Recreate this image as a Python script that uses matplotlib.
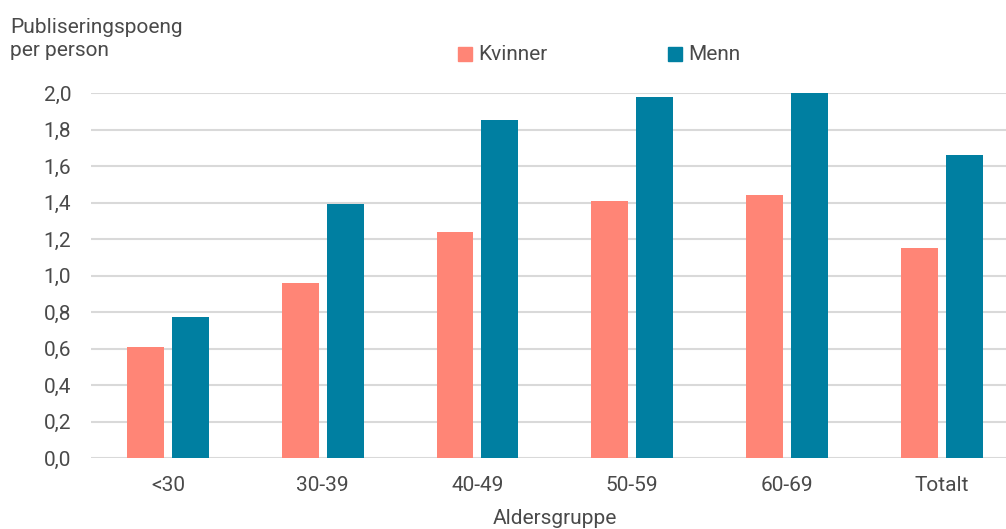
import matplotlib
matplotlib.use("Agg")
import matplotlib.pyplot as plt
import numpy as np
from matplotlib.patches import Rectangle

plt.rcParams['font.family'] = ['Roboto', 'DejaVu Sans']
plt.rcParams['font.weight'] = 'normal'

categories = ["<30", "30-39", "40-49", "50-59", "60-69", "Totalt"]
kvinner = [0.61, 0.96, 1.24, 1.41, 1.44, 1.15]
menn = [0.77, 1.39, 1.85, 1.98, 2.00, 1.66]
yticks = [0.0, 0.2, 0.4, 0.6, 0.8, 1.0, 1.2, 1.4, 1.6, 1.8, 2.0]

c_k = "#FF8576"
c_m = "#007FA1"
txt = "#4a4a4a"
fs = 15

W, H = 1006, 529
fig = plt.figure(figsize=(W/100, H/100), dpi=100)
ax = fig.add_axes([90.6/W, 1-458/H, (1019-90.6)/W, (458-93)/H])

x = np.arange(len(categories))
bw = 0.239
off = 0.145
ax.bar(x - off, kvinner, bw, color=c_k, zorder=3)
ax.bar(x + off, menn, bw, color=c_m, zorder=3)

ax.set_xlim(-0.5, len(categories) - 0.5)
ax.set_ylim(0, 2.0)
ax.set_yticks(yticks)
ax.set_yticklabels([f"{v:.1f}".replace(".", ",") for v in yticks])
ax.set_xticks(x)
ax.set_xticklabels(categories)
ax.tick_params(axis='both', length=0, labelsize=fs, colors=txt)
ax.tick_params(axis='y', pad=14)
ax.tick_params(axis='x', pad=13)
ax.grid(axis='y', color='#d9d9d9', linewidth=1.5, zorder=0)
for s in ax.spines.values():
    s.set_visible(False)
ax.set_axisbelow(True)

ax.set_xlabel("Aldersgruppe", fontsize=fs, color=txt)
ax.xaxis.set_label_coords((555 - 90.6) / (1019 - 90.6), -(519 - 458) / (458 - 93))
ax.xaxis.label.set_verticalalignment('center')

fig.text(10/W, 1-18/H, "Publiseringspoeng\nper person", fontsize=fs, color=txt,
         va='top', ha='left', linespacing=1.25)

# legend
for lx, lbl, col in [(458, "Kvinner", c_k), (668, "Menn", c_m)]:
    fig.patches.append(Rectangle((lx/W, 1-61/H), 14/W, 14/H, transform=fig.transFigure,
                                 color=col, figure=fig))
    fig.text((lx+20)/W, 1-54/H, lbl, fontsize=fs, color=txt, va='center', ha='left')

fig.savefig("out.png", dpi=100)
